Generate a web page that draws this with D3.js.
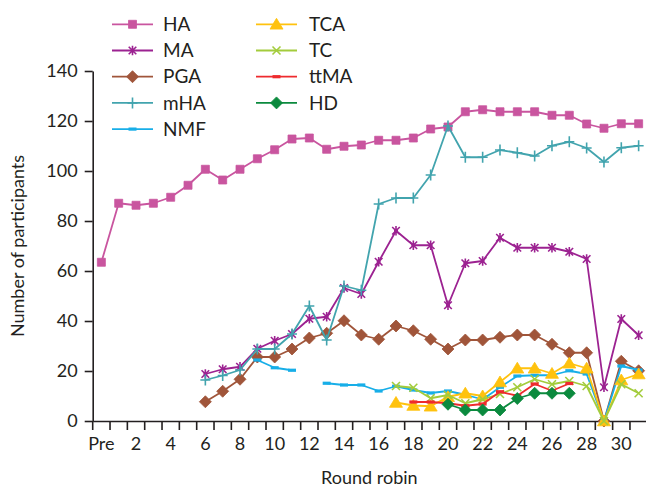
<!DOCTYPE html>
<html>
<head>
<meta charset="utf-8">
<script src="https://cdn.jsdelivr.net/npm/d3@7"></script>
<style>
  html, body { margin: 0; padding: 0; background: #fff; }
  svg text { font-family: Lato, "Open Sans", sans-serif; fill: #231f20; }
</style>
</head>
<body>
<svg id="chart" width="646" height="487"></svg>
<script>
// Rounds: pre-round followed by round robin 1..31
const rounds = ["Pre"].concat(d3.range(1, 32).map(String));
const tickRounds = ["Pre"].concat(d3.range(2, 31, 2).map(String));
const yTicks = [0, 20, 40, 60, 80, 100, 120, 140];

const _ = null;
const HA   = [63.5, 87.1, 86.3, 87.1, 89.5, 94.3, 100.7, 96.4, 100.7, 104.9, 108.5, 112.8, 113.2, 108.7, 109.9, 110.4, 112.3, 112.3, 113.2, 116.8, 117.6, 123.7, 124.5, 123.7, 123.7, 123.7, 122.3, 122.3, 118.8, 117.1, 118.9, 118.9];
const MA   = [_, _, _, _, _, _, 18.8, 20.7, 21.7, 28.9, 32.1, 34.8, 40.9, 41.7, 53.2, 50.8, 63.7, 76.1, 70.3, 70.3, 46.3, 63.1, 64.0, 73.3, 69.3, 69.3, 69.3, 67.7, 64.8, 13.5, 40.8, 34.3];
const PGA  = [_, _, _, _, _, _, 7.7, 11.9, 16.7, 25.6, 25.6, 28.8, 33.2, 35.1, 40.1, 34.4, 32.7, 38.0, 36.1, 32.7, 28.8, 32.4, 32.4, 33.5, 34.4, 34.4, 30.7, 27.3, 27.3, 0, 23.9, 20.1];
const mHA  = [_, _, _, _, _, _, 16.4, 18.2, 20.4, 28.8, 28.8, 34.8, 46.0, 32.4, 54.0, 52.3, 86.8, 89.2, 89.2, 98.4, 118.0, 105.5, 105.5, 108.4, 107.3, 106.0, 110.1, 111.7, 109.2, 103.6, 109.3, 110.1];
const NMF  = [_, _, _, _, _, _, _, _, _, 24.4, 21.3, 20.3, _, 15.1, 14.4, 14.4, 12.0, 13.9, 12.4, 11.2, 12.0, 10.5, 8.6, 13.5, 18.0, 18.3, 18.3, 20.1, 18.8, 0, 22.0, 20.4];
const TCA  = [_, _, _, _, _, _, _, _, _, _, _, _, _, _, _, _, _, 7.4, 6.2, 5.9, 9.7, 11.1, 10.0, 15.6, 21.1, 21.1, 19.0, 23.1, 21.1, 0, 16.4, 18.8];
const TC   = [_, _, _, _, _, _, _, _, _, _, _, _, _, _, _, _, _, 14.0, 13.3, 9.1, 10.4, 7.1, 8.7, 10.8, 13.5, 16.7, 14.7, 16.0, 14.0, 0, 14.7, 11.1];
const ttMA = [_, _, _, _, _, _, _, _, _, _, _, _, _, _, _, _, _, _, 7.6, 7.6, 7.1, 6.1, 6.8, 11.7, 10.1, 14.8, 12.1, 15.0, _, _, _, _];
const HD   = [_, _, _, _, _, _, _, _, _, _, _, _, _, _, _, _, _, _, _, _, 6.7, 4.4, 4.4, 4.4, 9.0, 11.1, 11.1, 11.1, _, _, _, _];

// Marker shapes, centred on the data point
const markers = {
  square:   { d: "M-4,-4H4V4H-4Z", fill: true },
  asterisk: { d: "M-3.8,-3.8L3.8,3.8M-3.8,3.8L3.8,-3.8M0,-4.8V4.8M-2,0H2", fill: false, w: 1.6 },
  diamond:  { d: "M0,-6L6,0L0,6L-6,0Z", fill: true },
  plus:     { d: "M-5,0H5M0,-5.5V5.5", fill: false, w: 1.6 },
  dash:     { d: "M-4,0H4", fill: false, w: 3.2 },
  triangle: { d: "M0,-6L6.5,4.8H-6.5Z", fill: true },
  cross:    { d: "M-4,-4L4,4M-4,4L4,-4", fill: false, w: 1.6 }
};

const series = [
  { name: "HA",   values: HA,   color: "#c9559f", marker: "square" },
  { name: "MA",   values: MA,   color: "#9c2291", marker: "asterisk" },
  { name: "PGA",  values: PGA,  color: "#a0553a", marker: "diamond" },
  { name: "mHA",  values: mHA,  color: "#42a4ae", marker: "plus" },
  { name: "NMF",  values: NMF,  color: "#17aee8", marker: "dash" },
  { name: "TCA",  values: TCA,  color: "#ffc20e", marker: "triangle" },
  { name: "TC",   values: TC,   color: "#a3cc3c", marker: "cross" },
  { name: "ttMA", values: ttMA, color: "#ee2b2e", marker: "dash" },
  { name: "HD",   values: HD,   color: "#0b8a3e", marker: "diamond" }
];

const svg = d3.select("#chart");

const x = d3.scaleBand().domain(rounds).range([92.7, 647.3]).padding(0);
const y = d3.scaleLinear().domain([0, 140]).range([421, 71]);
const cx = c => x(c) + x.bandwidth() / 2;

// Y axis
const yAxis = svg.append("g")
  .attr("transform", `translate(${x.range()[0]},0)`)
  .call(d3.axisLeft(y).tickValues(yTicks).tickSize(8).tickPadding(7).tickSizeOuter(0));
yAxis.select(".domain").attr("stroke", "#231f20").attr("stroke-width", 1.6);
yAxis.selectAll(".tick line").attr("stroke", "#231f20").attr("stroke-width", 1.6);
yAxis.selectAll(".tick text").attr("font-size", 18).attr("fill", "#231f20")
  .style("font-family", "Lato, sans-serif");

// X axis: labels at band centres, ticks at band boundaries
const xAxis = svg.append("g")
  .attr("transform", `translate(0,${y(0)})`)
  .call(d3.axisBottom(x).tickValues(tickRounds).tickSize(0).tickPadding(16));
xAxis.select(".domain").attr("stroke", "#231f20").attr("stroke-width", 1.6);
xAxis.selectAll(".tick text").attr("font-size", 18).attr("fill", "#231f20")
  .style("font-family", "Lato, sans-serif");
xAxis.selectAll("line.bound")
  .data(rounds)
  .enter().append("line")
  .attr("class", "bound")
  .attr("x1", d => x(d)).attr("x2", d => x(d))
  .attr("y1", 0).attr("y2", 9)
  .attr("stroke", "#231f20").attr("stroke-width", 1.6);

// Axis titles
svg.append("text")
  .attr("x", (x.range()[0] + 646) / 2).attr("y", 484)
  .attr("text-anchor", "middle").attr("font-size", 18)
  .text("Round robin");
svg.append("text")
  .attr("transform", `translate(24,${(y(0) + y(140)) / 2}) rotate(-90)`)
  .attr("text-anchor", "middle").attr("font-size", 18)
  .text("Number of participants");

function drawMarker(sel, m, color) {
  const spec = markers[m];
  sel.append("path")
    .attr("d", spec.d)
    .attr("fill", spec.fill ? color : "none")
    .attr("stroke", color)
    .attr("stroke-width", spec.fill ? 0.8 : spec.w);
}

// Series lines and markers
const line = d3.line()
  .defined(d => d.v !== null)
  .x(d => cx(d.c))
  .y(d => y(d.v));

const plot = svg.append("g");
series.forEach(s => {
  const pts = rounds.map((c, i) => ({ c, v: s.values[i] }));
  const g = plot.append("g");
  g.append("path")
    .datum(pts)
    .attr("d", line)
    .attr("fill", "none")
    .attr("stroke", s.color)
    .attr("stroke-width", 1.8)
    .attr("stroke-linejoin", "round");
  g.selectAll("g.pt")
    .data(pts.filter(d => d.v !== null))
    .enter().append("g")
    .attr("class", "pt")
    .attr("transform", d => `translate(${cx(d.c)},${y(d.v)})`)
    .each(function () { drawMarker(d3.select(this), s.marker, s.color); });
});

// Legend, two columns
const legendCols = [{ lx: 112, tx: 163 }, { lx: 256, tx: 309 }];
const legend = svg.append("g");
series.forEach((s, i) => {
  const col = legendCols[i < 5 ? 0 : 1];
  const row = i < 5 ? i : i - 5;
  const ly = 24.3 + row * 26.2;
  const g = legend.append("g");
  g.append("line")
    .attr("x1", col.lx).attr("x2", col.lx + 41)
    .attr("y1", ly).attr("y2", ly)
    .attr("stroke", s.color).attr("stroke-width", 1.8);
  const mg = g.append("g").attr("transform", `translate(${col.lx + 20.5},${ly})`);
  drawMarker(mg, s.marker, s.color);
  g.append("text")
    .attr("x", col.tx).attr("y", ly)
    .attr("dy", "0.35em")
    .attr("font-size", 19)
    .text(s.name);
});
</script>
</body>
</html>
